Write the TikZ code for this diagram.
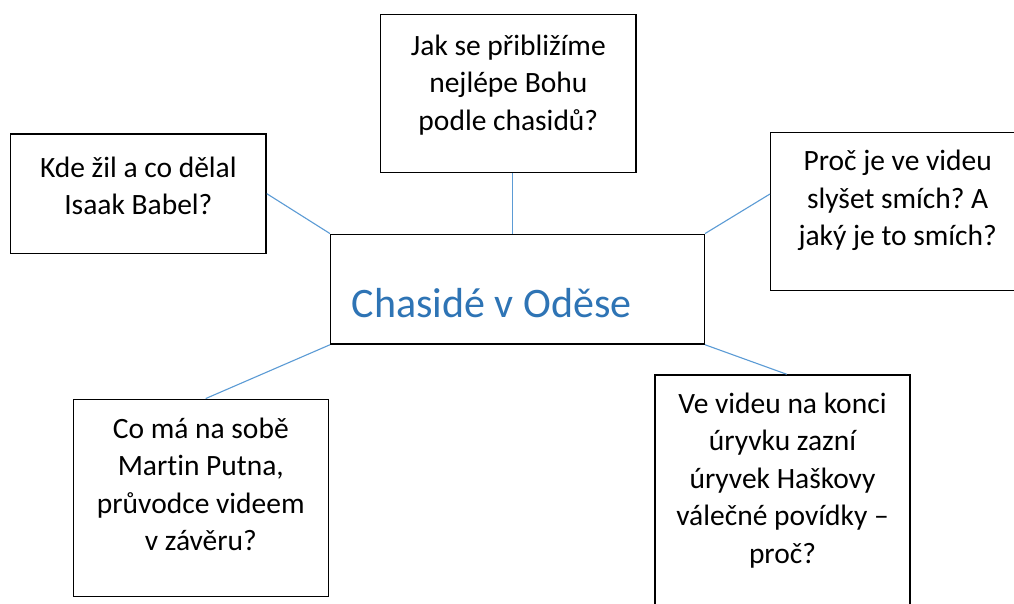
\documentclass[tikz,border=0pt]{standalone}
\usepackage{fontspec}
\setmainfont{Carlito}[Ligatures=CommonOff]
\frenchspacing
\definecolor{linkblue}{HTML}{5B9BD5}
\definecolor{titleblue}{HTML}{2E74B5}
\tikzset{
  qbox/.style={draw=black, line width=1.5pt, fill=white, inner sep=0pt},
  qtext/.style={anchor=base, align=flush center, inner sep=0pt, text width=250pt,
    font=\fontsize{29.5}{37.5}\selectfont},
  link/.style={draw=linkblue, line width=1.1pt}
}
\begin{document}
\begin{tikzpicture}[x=1pt,y=-1pt]
\useasboundingbox[fill=white] (0,0) rectangle (1014,603);
\begin{scope}
\clip (0,0) rectangle (1014,603);
% boxes
\node[qbox, minimum width=255.3pt, minimum height=158pt] (top) at (508.35,93.7) {};
\node[qbox, minimum width=255.3pt, minimum height=119.3pt] (left) at (138.35,193.65) {};
\node[qbox, minimum width=254pt, minimum height=158pt] (right) at (897.7,211.7) {};
\node[qbox, minimum width=255pt, minimum height=197.4pt] (bl) at (200.8,498) {};
\node[qbox, minimum width=255pt, minimum height=250pt] (br) at (782.5,500) {};
\node[qbox, minimum width=373.6pt, minimum height=109.7pt] (center) at (517.5,289.15) {};
% title
\node[anchor=base west, inner sep=0pt, text=titleblue, font=\fontsize{42}{50}\selectfont] (title) at (351.7,317.7) {Chasidé v Oděse};
% texts
\node[qtext] (ttop) at (508.35,55) {Jak se přibližíme\\nejlépe Bohu\\podle chasidů?};
\node[qtext] (tleft) at (138.35,177.3) {Kde žil a co dělal\\Isaak Babel?};
\node[qtext] (tright) at (897.7,170.7) {Proč je ve videu\\slyšet smích? A\\jaký je to smích?};
\node[qtext] (tbl) at (200.8,438.3) {Co má na sobě\\Martin Putna,\\průvodce videem\\v závěru?};
\node[qtext] (tbr) at (782.5,413.3) {Ve videu na konci\\úryvku zazní\\úryvek Haškovy\\válečné povídky –\\proč?};
% connectors
\draw[link] ([xshift=4.4pt]top.south) -- ([xshift=4.4pt]top.south |- center.north);
\draw[link] (left.east) -- (center.north west);
\draw[link] (center.north east) -- ([yshift=17.7pt]right.west);
\draw[link] (center.south west) -- ([xshift=4.9pt]bl.north);
\draw[link] (center.south east) -- ([xshift=4.2pt]br.north);
\end{scope}
\end{tikzpicture}
\end{document}
